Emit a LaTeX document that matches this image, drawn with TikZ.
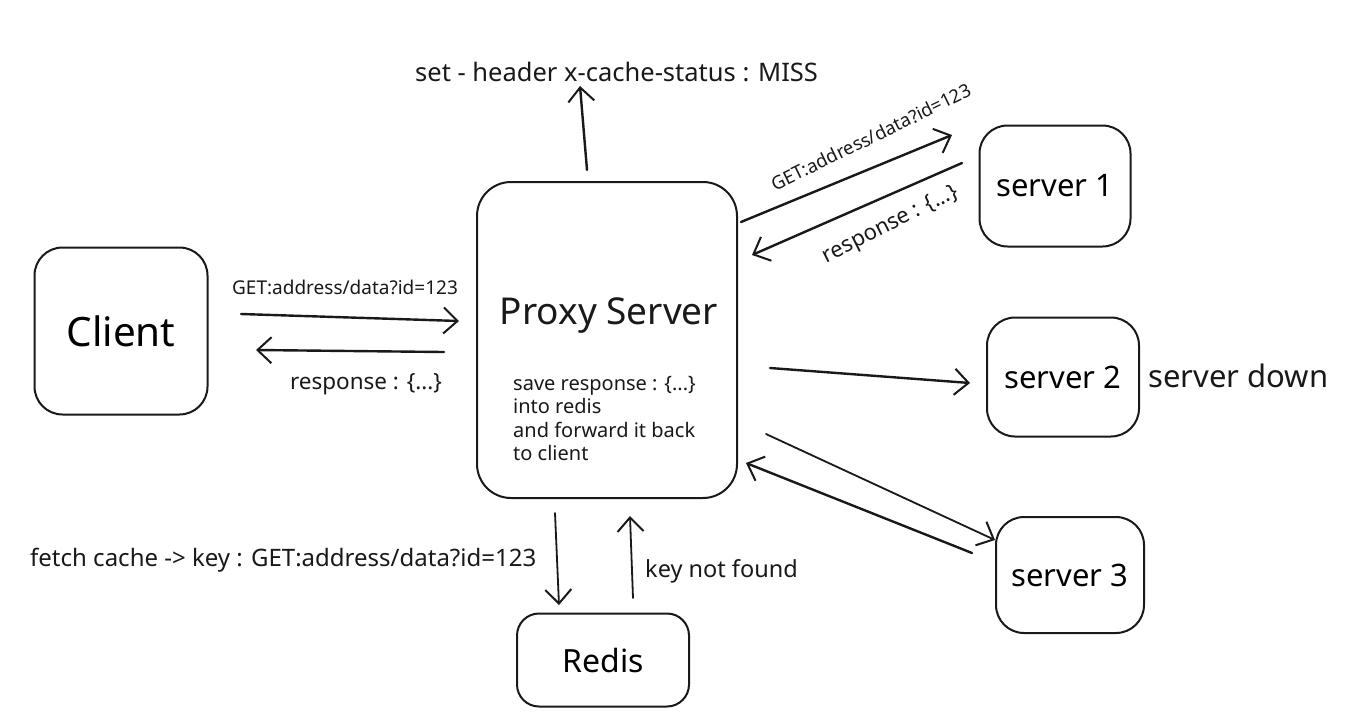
\documentclass[tikz,border=0pt]{standalone}
\usepackage{fontspec}
\setmainfont{Noto Sans}
\usetikzlibrary{arrows.meta}
\tikzset{
  box/.style={draw=black!90, line width=2pt, rounded corners=28pt, inner sep=0pt},
  conn/.style={draw=black!90, line width=2.4pt, line cap=round,
    -{Straight Barb[length=14pt,width=26pt,line width=2pt]}},
  lbl/.style={inner sep=0pt, text=black!90},
}
\newcommand{\fs}[1]{\fontsize{#1pt}{#1pt}\selectfont}
\begin{document}
\begin{tikzpicture}[x=1pt,y=-1pt]
\useasboundingbox[fill=white] (0,0) rectangle (1352,716);
% boxes
\node[box, minimum width=173pt, minimum height=167pt, font=\fs{40.5}] (client) at (121,331) {Client};
\node[box, minimum width=260pt, minimum height=316pt, rounded corners=34pt] (proxy) at (607,340) {};
\node[box, minimum width=151pt, minimum height=121pt, font=\fs{31}] (s1) at (1055,186) {server 1};
\node[box, minimum width=152pt, minimum height=119pt, font=\fs{31}] (s2) at (1063,377) {server 2};
\node[box, minimum width=148pt, minimum height=116pt, font=\fs{31}] (s3) at (1070,575) {server 3};
\node[box, minimum width=172pt, minimum height=93pt, rounded corners=22pt, font=\fs{32}] (redis) at (603,660) {Redis};
% labels
\node[lbl, font=\fs{37}] (ptitle) at (609,316) {Proxy Server};
\node[lbl, anchor=north west, align=left, font={\fontsize{20pt}{23.5pt}\selectfont}] (pnote) at (513,376) {save response : \{...\}\\into redis\\and forward it back\\to client};
\node[lbl, anchor=west, font=\fs{31}] (down) at (1148,376) {server down};
\node[lbl, anchor=west, font=\fs{25.5}] (miss) at (415,72) {set - header x-cache-status : MISS};
\node[lbl, font=\fs{19}] (getc) at (345,287) {GET:address/data?id=123};
\node[lbl, font=\fs{22.5}] (respc) at (366,384) {response : \{...\}};
\node[lbl, anchor=west, font=\fs{24}] (fetch) at (30,560) {fetch cache -> key : GET:address/data?id=123};
\node[lbl, anchor=west, font=\fs{23.5}] (knf) at (645,571) {key not found};
\node[lbl, rotate=26, font=\fs{18.5}] (gets) at (871,137) {GET:address/data?id=123};
\node[lbl, rotate=26.7, font=\fs{22}] (resps) at (891,225) {response : \{...\}};
% connector end points
\coordinate (upA) at (587,170);
\coordinate (upB) at (580,86);
\coordinate (cpA) at (241,314);
\coordinate (cpB) at (459,321);
\coordinate (pcA) at (444,352);
\coordinate (pcB) at (256,350);
\coordinate (p1A) at (741,222);
\coordinate (p1B) at (952,135);
\coordinate (s1A) at (962,163);
\coordinate (s1B) at (752,255);
\coordinate (p2A) at (770,368);
\coordinate (p2B) at (970,383);
\coordinate (p3A) at (766,434);
\coordinate (p3B) at (995,540);
\coordinate (s3A) at (972,553);
\coordinate (s3B) at (746,463);
\coordinate (prA) at (555,513);
\coordinate (prB) at (559,605);
\coordinate (rpA) at (633,598);
\coordinate (rpB) at (630,516);
% connectors
\draw[conn] (upA) -- (upB);
\draw[conn] (cpA) -- (cpB);
\draw[conn] (pcA) -- (pcB);
\draw[conn] (p1A) -- (p1B);
\draw[conn] (s1A) -- (s1B);
\draw[conn] (p2A) -- (p2B);
\draw[conn, line width=1.8pt] (p3A) -- (p3B);
\draw[conn] (s3A) -- (s3B);
\draw[conn, line width=1.8pt] (prA) -- (prB);
\draw[conn, line width=1.8pt] (rpA) -- (rpB);
\end{tikzpicture}
\end{document}
